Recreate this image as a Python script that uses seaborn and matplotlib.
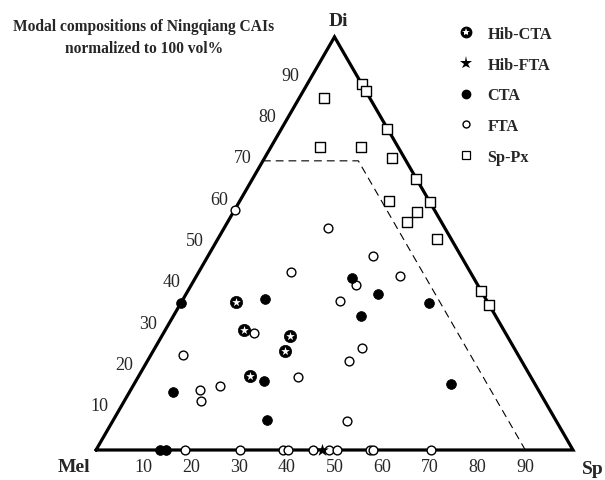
import numpy as np
import pandas as pd
import matplotlib
matplotlib.use("Agg")
import matplotlib.pyplot as plt
import seaborn as sns
from matplotlib.lines import Line2D

# ---- data: (Sp, Di) in vol%, Mel = 100 - Sp - Di ----
cta_sp = [0, 17.2, 26.8, 9.2, 32.1, 13.4, 14.6, 32.8, 40.2, 52.1, 39.3, 66.5]
cta_di = [35.6, 36.6, 16.7, 14.0, 7.3, 0, 0, 41.7, 37.8, 35.5, 32.4, 15.9]

hibcta_sp = [11.5, 16.6, 26.9, 27.7, 23.3]
hibcta_di = [35.8, 29.0, 27.6, 23.9, 17.9]

hibfta_sp = [47.4]
hibfta_di = [0]

fta_sp = [19.0, 6.6, 33.6, 14.6, 16.0, 18.1, 19.4, 34.5, 34.6, 42.6, 33.2, 43.5,
          42.3, 49.2, 21.8, 0, 18.7, 30.1, 39.3, 40.2, 45.5, 48.9, 50.6, 57.5,
          58.0, 70.2]
fta_di = [28.3, 23.1, 17.6, 14.5, 11.9, 15.6, 43.0, 47.0, 40.0, 42.1, 36.0, 24.6,
          21.5, 7.0, 53.7, 58.1, 0, 0, 0, 0, 0, 0, 0, 0,
          0, 0]

sppx_sp = [11.5, 13.2, 5.2, 22.2, 10.3, 18.9, 26.6, 34.3, 31.4, 40.0, 38.4, 37.5,
           45.9, 61.6, 64.9]
sppx_di = [88.5, 86.8, 85.2, 77.8, 73.3, 73.4, 70.7, 65.7, 60.2, 60.0, 57.7, 55.3,
           51.1, 38.4, 35.1]

# dashed field boundary (Sp, Di)
dash_sp = [0, 20, 90]
dash_di = [70, 70, 0]

tick_values = [10, 20, 30, 40, 50, 60, 70, 80, 90]
labels = ["Hib-CTA", "Hib-FTA", "CTA", "FTA", "Sp-Px"]

H = np.sqrt(3) / 2


def to_xy(sp, di):
    sp = np.asarray(sp, float)
    di = np.asarray(di, float)
    return sp + di / 2, di * H


frames = []
for name, sp, di in [("CTA", cta_sp, cta_di), ("Hib-CTA", hibcta_sp, hibcta_di),
                     ("Hib-FTA", hibfta_sp, hibfta_di), ("FTA", fta_sp, fta_di),
                     ("Sp-Px", sppx_sp, sppx_di)]:
    x, y = to_xy(sp, di)
    frames.append(pd.DataFrame({"x": x, "y": y, "type": name}))
df = pd.concat(frames, ignore_index=True)

sns.set_style("white")
plt.rcParams["font.family"] = ["Liberation Serif", "DejaVu Serif"]

fig = plt.figure(figsize=(6.05, 4.81), dpi=100)
ax = fig.add_axes([0, 0, 1, 1])
ax.set_xlim(-20.13, 106.71)
ax.set_ylim(-6.29, 94.55)
ax.axis("off")

# triangle frame
tri_x, tri_y = to_xy([0, 100, 0, 0], [0, 0, 100, 0])
ax.plot(tri_x, tri_y, color="black", lw=2.3, solid_joinstyle="miter", zorder=2)

# dashed boundary
dx, dy = to_xy(dash_sp, dash_di)
ax.plot(dx, dy, color="black", lw=0.8, dashes=(7, 4.5), zorder=1)

# tick labels
for v in tick_values:
    bx, by = to_xy([v], [0])
    ax.annotate(str(v), xy=(bx[0], by[0]), xytext=(0, -17), textcoords="offset pixels",
                ha="center", va="center", fontsize=13)
    lx, ly = to_xy([0], [v])
    ax.annotate(str(v), xy=(lx[0], ly[0]), xytext=(-20, 3), textcoords="offset pixels",
                ha="center", va="center", fontsize=13)

# points
sub = df[df.type == "FTA"]
sns.scatterplot(data=sub, x="x", y="y", marker="o", s=40, color="white",
                edgecolor="black", linewidth=1.0, ax=ax, legend=False, zorder=3)
sub = df[df.type == "Sp-Px"]
sns.scatterplot(data=sub, x="x", y="y", marker="s", s=42, color="white",
                edgecolor="black", linewidth=1.0, ax=ax, legend=False, zorder=3)
sub = df[df.type == "CTA"]
sns.scatterplot(data=sub, x="x", y="y", marker="o", s=50, color="black",
                edgecolor="black", linewidth=0.5, ax=ax, legend=False, zorder=4)
sub = df[df.type == "Hib-CTA"]
sns.scatterplot(data=sub, x="x", y="y", marker="o", s=78, color="black",
                edgecolor="black", linewidth=0.5, ax=ax, legend=False, zorder=4)
sns.scatterplot(data=sub, x="x", y="y", marker="*", s=42, color="white",
                linewidth=0, ax=ax, legend=False, zorder=5)
sub = df[df.type == "Hib-FTA"]
sns.scatterplot(data=sub, x="x", y="y", marker="*", s=90, color="black",
                linewidth=0, ax=ax, legend=False, zorder=5)

# vertex labels
fig.text(74 / 605, 1 - 468 / 481, "Mel", ha="center", va="center",
         fontsize=14, fontweight="bold")
fig.text(593 / 605, 1 - 470 / 481, "Sp", ha="center", va="center",
         fontsize=14, fontweight="bold")
fig.text(338 / 605, 1 - 22 / 481, "Di", ha="center", va="center",
         fontsize=14, fontweight="bold")

# title
fig.text(144 / 605, 1 - 38 / 481,
         "Modal compositions of Ningqiang CAIs\nnormalized to 100 vol%",
         ha="center", va="center", multialignment="center",
         fontsize=11.2, fontweight="bold", linespacing=1.47)

# legend
handles = [
    (Line2D([], [], marker="o", ls="", color="black", markersize=7.5),
     Line2D([], [], marker="*", ls="", color="white", markersize=6, markeredgewidth=0)),
    Line2D([], [], marker="*", ls="", color="black", markersize=9.5, markeredgewidth=0),
    Line2D([], [], marker="o", ls="", color="black", markersize=6),
    Line2D([], [], marker="o", ls="", markerfacecolor="white", markeredgecolor="black",
           markersize=5, markeredgewidth=1),
    Line2D([], [], marker="s", ls="", markerfacecolor="white", markeredgecolor="black",
           markersize=5.5, markeredgewidth=0.9),
]
ax.legend(handles, labels, loc="upper left",
          bbox_to_anchor=(456 / 605, 1 - 27 / 481), bbox_transform=fig.transFigure,
          frameon=False, prop={"weight": "bold", "size": 11.7},
          labelspacing=0.9, handlelength=1.2, handletextpad=0.75,
          borderpad=0, borderaxespad=0)

fig.savefig("out.png", dpi=100)
